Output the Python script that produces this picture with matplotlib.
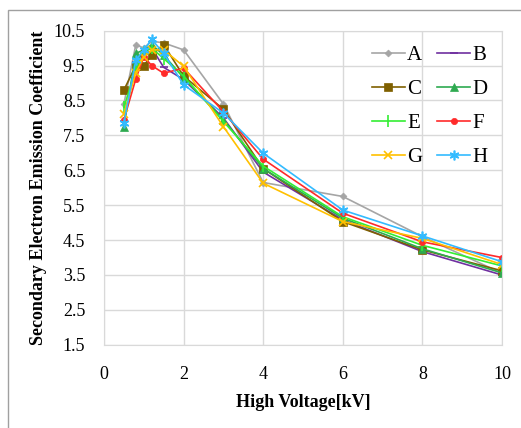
import matplotlib
matplotlib.use("Agg")
from matplotlib import pyplot as plt
from matplotlib.patches import Rectangle

# high voltage [kV]
voltage = [0.5, 0.8, 1.0, 1.2, 1.5, 2, 3, 4, 6, 8, 10]

labels = ["A", "B", "C", "D", "E", "F", "G", "H"]
sA = [8.4, 10.1, 10.0, 10.2, 10.15, 9.95, 8.4, 6.15, 5.75, 4.6, 3.55]
sB = [7.9, 9.6, 9.9, 10.0, 9.45, 9.1, 8.0, 6.45, 5.08, 4.17, 3.5]
sC = [8.8, 9.5, 9.5, 9.8, 10.1, 9.2, 8.25, 6.55, 5.03, 4.22, 3.62]
sD = [7.75, 9.85, 9.95, 10.1, 9.8, 9.15, 7.95, 6.55, 5.13, 4.25, 3.56]
sE = [8.3, 9.4, 9.9, 10.0, 9.7, 9.2, 7.9, 6.62, 5.17, 4.35, 3.76]
sF = [7.95, 9.12, 9.75, 9.5, 9.28, 9.43, 8.18, 6.82, 5.27, 4.45, 4.0]
sG = [8.1, 9.3, 9.75, 9.95, 9.95, 9.48, 7.75, 6.13, 5.03, 4.55, 3.8]
sH = [7.85, 9.65, 9.95, 10.25, 9.85, 8.95, 8.14, 6.99, 5.36, 4.62, 3.88]
series = [sA, sB, sC, sD, sE, sF, sG, sH]

colors = ["#A5A5A5", "#7030A0", "#7F6000", "#2EAA50", "#33EE33", "#FF2A2A", "#FFC000", "#33BBFF"]
markers = ["D", "_", "s", "^", "|", "o", "x", (6, 2, 0)]
msizes = [3.5, 6, 5.5, 5.5, 8, 4.5, 6, 7]

yticks = [1.5, 2.5, 3.5, 4.5, 5.5, 6.5, 7.5, 8.5, 9.5, 10.5]
xticks = [0, 2, 4, 6, 8, 10]

plt.rcParams["font.family"] = ["Liberation Serif", "DejaVu Serif"]

fig = plt.figure(figsize=(5.21, 4.28), dpi=100)
ax = fig.add_axes([0.1996, 0.1944, 0.7639, 0.7339])

# outer chart border (only left and top edges visible in the crop)
fig.patches.append(Rectangle((8 / 521, -0.5), 2.0, 1.5 - 10 / 428,
                             transform=fig.transFigure, fill=False,
                             edgecolor="#A0A0A0", linewidth=1.0))

handles = []
for lab, ys, c, m, ms in zip(labels, series, colors, markers, msizes):
    thin = m in ("|", "_", "x") or isinstance(m, tuple)
    h, = ax.plot(voltage, ys, color=c, marker=m, markersize=ms,
                 markeredgewidth=1.2 if thin else 0.5,
                 linewidth=1.2, label=lab)
    handles.append(h)

ax.set_xlim(0, 10)
ax.set_ylim(1.5, 10.5)
ax.set_xticks(xticks)
ax.set_yticks(yticks)
ax.set_yticklabels([f"{v:.1f}" for v in yticks])
ax.grid(True, color="#D9D9D9", linewidth=1.0)
ax.set_axisbelow(True)
for sp in ax.spines.values():
    sp.set_color("#D9D9D9")
ax.tick_params(length=0, labelsize=13)
ax.tick_params(axis="x", pad=15)
ax.tick_params(axis="y", pad=13.5)

ax.set_xlabel("High Voltage[kV]", fontsize=13, fontweight="bold", labelpad=8)
ax.set_ylabel("Secondary Electron Emission Coefficient", fontsize=13,
              fontweight="bold", labelpad=5)

order = [0, 2, 4, 6, 1, 3, 5, 7]
ax.legend([handles[i] for i in order], [labels[i] for i in order],
          ncol=2, loc="upper right", frameon=False, fontsize=15,
          handlelength=1.6, handletextpad=0.1, columnspacing=0.7,
          labelspacing=0.7, borderaxespad=0.3)

fig.savefig("out.png", dpi=100)
